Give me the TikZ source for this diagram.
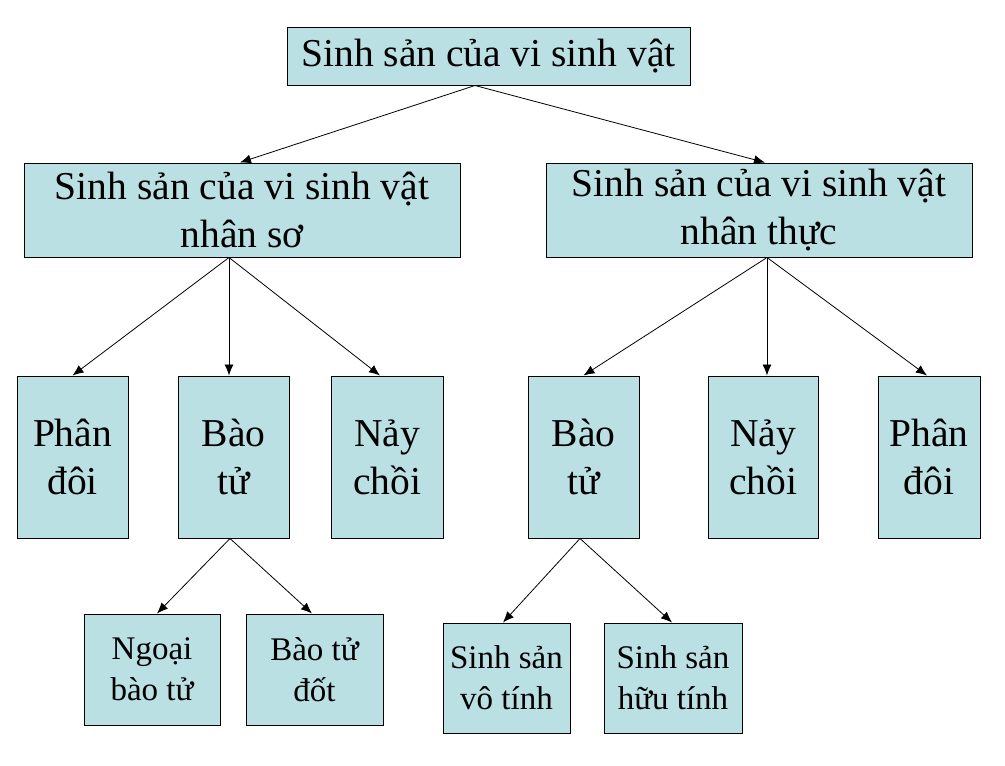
\documentclass[tikz,border=0pt]{standalone}
\usepackage{fontspec}
\setmainfont{Liberation Serif}
\usetikzlibrary{arrows.meta}
\definecolor{boxfill}{HTML}{BBE0E3}
\begin{document}
\begin{tikzpicture}[x=1pt,y=-1pt,
	box/.style={draw,line width=1pt,fill=boxfill,align=center,inner sep=0pt,font=\fontsize{39.5}{48}\selectfont},
	smallbox/.style={box,font=\fontsize{33}{41}\selectfont},
	arr/.style={-{Latex[length=11pt,width=9pt]},line width=0.8pt}]
\useasboundingbox (0,0) rectangle (1005,766);
\node [box,minimum width=403pt,minimum height=58pt] (top) at (488.5,56) {Sinh sản của vi sinh vật};
\node [box,minimum width=436pt,minimum height=94pt] (l) at (242,210) {Sinh sản của vi sinh vật\hspace{10pt}\\nhân sơ};
\node [box,minimum width=426pt,minimum height=94pt] (r) at (759,210) {Sinh sản của vi sinh vật\hspace{10pt}\\nhân thực};
\foreach \n/\x/\w/\t in {pd1/72.5/111/Phân\\đôi, bt1/233.5/111/Bào\\tử, nc1/387/112/Nảy\\chồi,
		bt2/583.5/111/Bào\\tử, nc2/763/110/Nảy\\chồi, pd2/929/102/Phân\\đôi}
	\node [box,minimum width=\w pt,minimum height=162pt] (\n) at (\x,457) {\t};
\node [smallbox,minimum width=136pt,minimum height=111pt] (ng) at (152,669.5) {Ngoại\\bào tử};
\node [smallbox,minimum width=137pt,minimum height=111pt] (btd) at (314.5,669.5) {Bào tử\\đốt};
\node [smallbox,minimum width=127pt,minimum height=110pt] (vt) at (506.5,678) {Sinh sản\\vô tính};
\node [smallbox,minimum width=138pt,minimum height=110pt] (ht) at (673,678) {Sinh sản\\hữu tính};
\draw [arr] ([xshift=-13.5pt]top.south) -- ([xshift=-2pt]l.north);
\draw [arr] ([xshift=-13.5pt]top.south) -- ([xshift=6pt]r.north);
\foreach \n/\s in {pd1/0, bt1/-4.5, nc1/-7}
	\draw [arr] ([xshift=-13pt]l.south) -- ([xshift=\s pt]\n.north);
\foreach \n/\s in {bt2/0, nc2/4, pd2/-2}
	\draw [arr] ([xshift=8pt]r.south) -- ([xshift=\s pt]\n.north);
\foreach \n/\s in {ng/5, btd/-2.5}
	\draw [arr] ([xshift=-3.5pt]bt1.south) -- ([xshift=\s pt]\n.north);
\foreach \n/\s in {vt/-3.5, ht/-1}
	\draw [arr] ([xshift=-3.5pt]bt2.south) -- ([xshift=\s pt]\n.north);
\end{tikzpicture}
\end{document}
